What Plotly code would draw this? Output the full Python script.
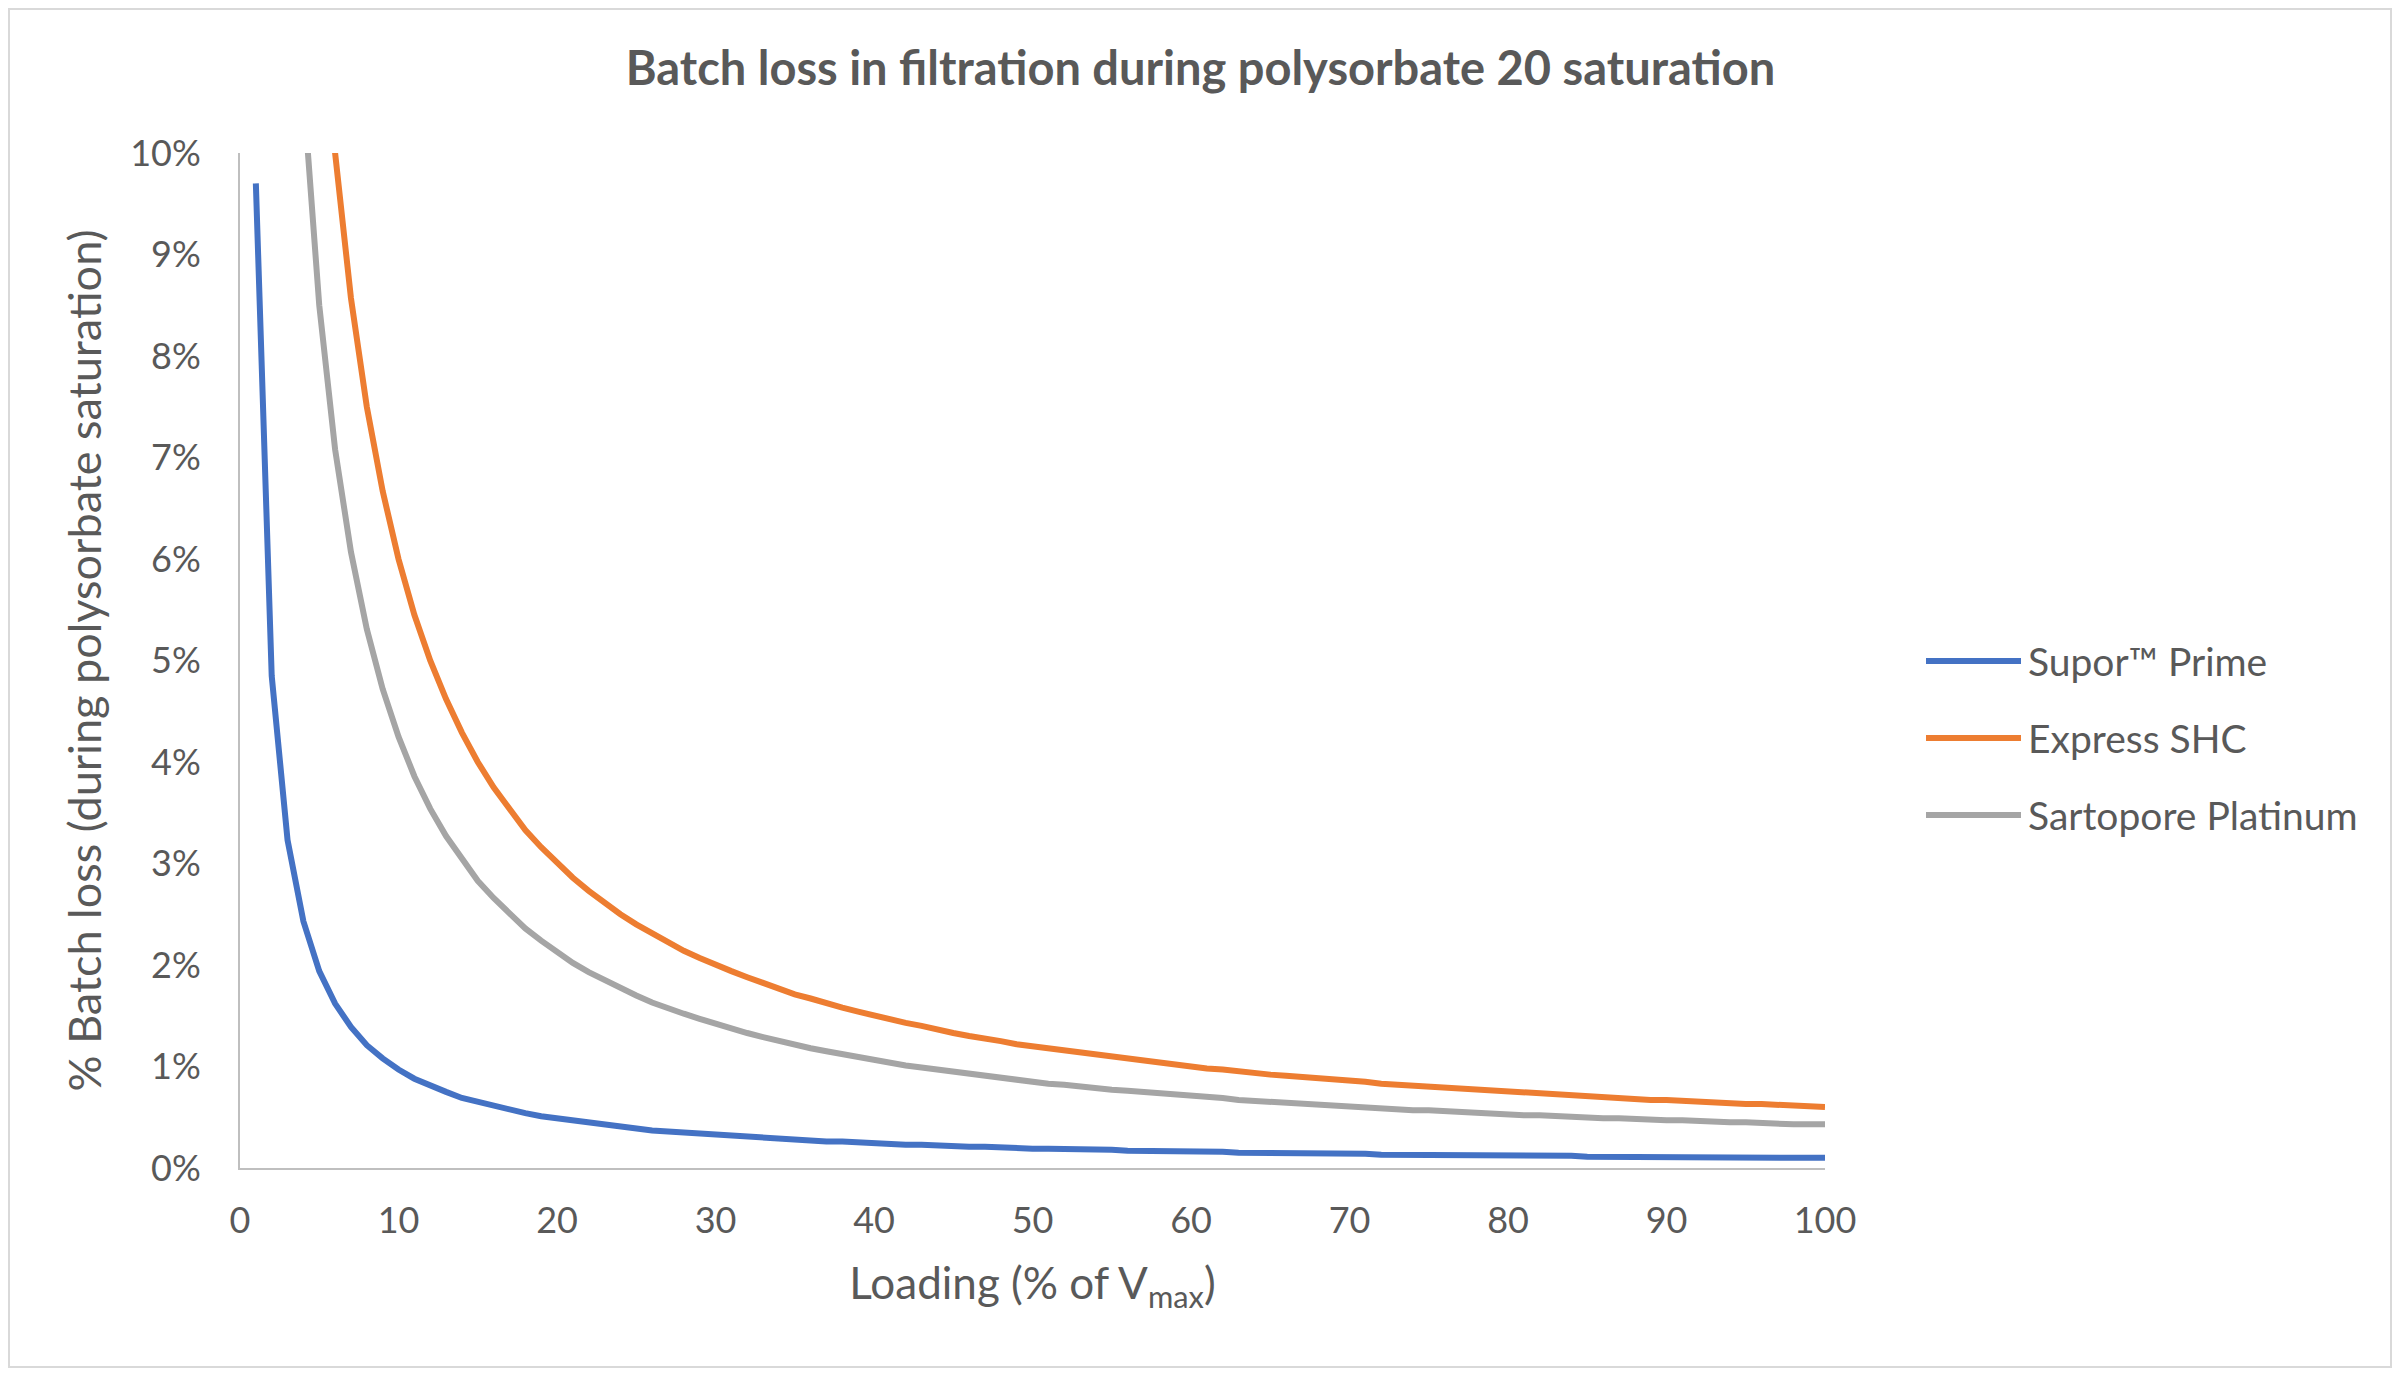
import plotly.graph_objects as go

# loading (% of Vmax), one point per percent
loading = list(range(1, 101))

# % batch loss, x = 1..100
supor_prime = [
    9.70, 4.85, 3.23, 2.43, 1.94, 1.62, 1.39, 1.21, 1.08, 0.97,
    0.88, 0.81, 0.75, 0.69, 0.65, 0.61, 0.57, 0.54, 0.51, 0.49,
    0.46, 0.44, 0.42, 0.40, 0.39, 0.37, 0.36, 0.35, 0.33, 0.32,
    0.31, 0.30, 0.29, 0.29, 0.28, 0.27, 0.26, 0.26, 0.25, 0.24,
    0.24, 0.23, 0.23, 0.22, 0.22, 0.21, 0.21, 0.20, 0.20, 0.19,
    0.19, 0.19, 0.18, 0.18, 0.18, 0.17, 0.17, 0.17, 0.16, 0.16,
    0.16, 0.16, 0.15, 0.15, 0.15, 0.15, 0.14, 0.14, 0.14, 0.14,
    0.14, 0.13, 0.13, 0.13, 0.13, 0.13, 0.13, 0.12, 0.12, 0.12,
    0.12, 0.12, 0.12, 0.12, 0.11, 0.11, 0.11, 0.11, 0.11, 0.11,
    0.11, 0.11, 0.10, 0.10, 0.10, 0.10, 0.10, 0.10, 0.10, 0.10,
]
express_shc = [
    60.0, 30.0, 20.0, 15.0, 12.0, 10.0, 8.57, 7.50, 6.67, 6.00,
    5.45, 5.00, 4.62, 4.29, 4.00, 3.75, 3.53, 3.33, 3.16, 3.00,
    2.86, 2.73, 2.61, 2.50, 2.40, 2.31, 2.22, 2.14, 2.07, 2.00,
    1.94, 1.88, 1.82, 1.76, 1.71, 1.67, 1.62, 1.58, 1.54, 1.50,
    1.46, 1.43, 1.40, 1.36, 1.33, 1.30, 1.28, 1.25, 1.22, 1.20,
    1.18, 1.15, 1.13, 1.11, 1.09, 1.07, 1.05, 1.03, 1.02, 1.00,
    0.98, 0.97, 0.95, 0.94, 0.92, 0.91, 0.90, 0.88, 0.87, 0.86,
    0.85, 0.83, 0.82, 0.81, 0.80, 0.79, 0.78, 0.77, 0.76, 0.75,
    0.74, 0.73, 0.72, 0.71, 0.71, 0.70, 0.69, 0.68, 0.67, 0.67,
    0.66, 0.65, 0.65, 0.64, 0.63, 0.63, 0.62, 0.61, 0.61, 0.60,
]
sartopore_platinum = [
    42.5, 21.3, 14.2, 10.6, 8.50, 7.08, 6.07, 5.31, 4.72, 4.25,
    3.86, 3.54, 3.27, 3.04, 2.83, 2.66, 2.50, 2.36, 2.24, 2.13,
    2.02, 1.93, 1.85, 1.77, 1.70, 1.63, 1.57, 1.52, 1.47, 1.42,
    1.37, 1.33, 1.29, 1.25, 1.21, 1.18, 1.15, 1.12, 1.09, 1.06,
    1.04, 1.01, 0.99, 0.97, 0.94, 0.92, 0.90, 0.89, 0.87, 0.85,
    0.83, 0.82, 0.80, 0.79, 0.77, 0.76, 0.75, 0.73, 0.72, 0.71,
    0.70, 0.69, 0.67, 0.66, 0.65, 0.64, 0.63, 0.63, 0.62, 0.61,
    0.60, 0.59, 0.58, 0.57, 0.57, 0.56, 0.55, 0.54, 0.54, 0.53,
    0.52, 0.52, 0.51, 0.51, 0.50, 0.49, 0.49, 0.48, 0.48, 0.47,
    0.47, 0.46, 0.46, 0.45, 0.45, 0.44, 0.44, 0.43, 0.43, 0.43,
]

series = [
    ("Supor™ Prime", supor_prime, "#4472C4"),
    ("Express SHC", express_shc, "#ED7D31"),
    ("Sartopore Platinum", sartopore_platinum, "#A5A5A5"),
]

# page body has an 8px margin, so the figure is a bit smaller than the window
W, H = 2401 - 16, 1377 - 16
L, R, T, B = 232, 568, 145, 201
FONT = "Lato"
TEXT = "#595959"
pw, ph = W - L - R, H - T - B

fig = go.Figure()
for name, vals, color in series:
    fig.add_trace(go.Scatter(
        x=loading, y=vals, mode="lines", name=name,
        line=dict(color=color, width=6), showlegend=False,
    ))

# legend drawn by hand so the key lines are as long as Excel's
LEG_X0, LEG_X1 = (1918 - L) / pw, (2013 - L) / pw
LEG_Y = [(H - B - y) / ph for y in (653, 730, 807)]
for (name, _, color), ly in zip(series, LEG_Y):
    fig.add_shape(type="line", xref="paper", yref="paper",
                  x0=LEG_X0, x1=LEG_X1, y0=ly, y1=ly,
                  line=dict(color=color, width=6))
    fig.add_annotation(xref="paper", yref="paper", x=LEG_X1 + 5 / pw, y=ly,
                       text=name, showarrow=False, xanchor="left", yanchor="middle",
                       font=dict(size=39, color=TEXT))

fig.update_layout(
    width=W, height=H,
    margin=dict(l=L, r=R, t=T, b=B),
    plot_bgcolor="white", paper_bgcolor="white",
    font=dict(family=FONT, color=TEXT, size=36),
    title=dict(
        text="<b>Batch loss in filtration during polysorbate 20 saturation</b>",
        x=0.5, xanchor="center", y=1 - 61 / H, yanchor="middle",
        font=dict(size=47, color=TEXT),
    ),
)

fig.update_xaxes(
    range=[0, 100], dtick=10, tick0=0,
    showgrid=False, zeroline=False,
    showline=True, linecolor="#BFBFBF", linewidth=2,
    ticks="outside", ticklen=20, tickcolor="rgba(0,0,0,0)",
    tickfont=dict(size=36, color=TEXT),
    title=dict(text="Loading (% of V<sub>max</sub>)", font=dict(size=44, color=TEXT), standoff=28),
)
fig.update_yaxes(
    range=[0, 10], dtick=1, tick0=0, ticksuffix="%",
    showgrid=False, zeroline=False,
    showline=True, linecolor="#BFBFBF", linewidth=2,
    ticks="outside", ticklen=30, tickcolor="rgba(0,0,0,0)",
    tickfont=dict(size=36, color=TEXT),
    title=dict(text="% Batch loss (during polysorbate saturation)", font=dict(size=45, color=TEXT), standoff=14),
)

# thin frame around the whole chart
fig.add_shape(
    type="rect", xref="paper", yref="paper",
    x0=-(L - 1) / pw, x1=1 + (R - 2) / pw, y0=-(B - 2) / ph, y1=1 + (T - 1) / ph,
    line=dict(color="#D9D9D9", width=2), layer="below",
)

fig.write_html("out.html")
